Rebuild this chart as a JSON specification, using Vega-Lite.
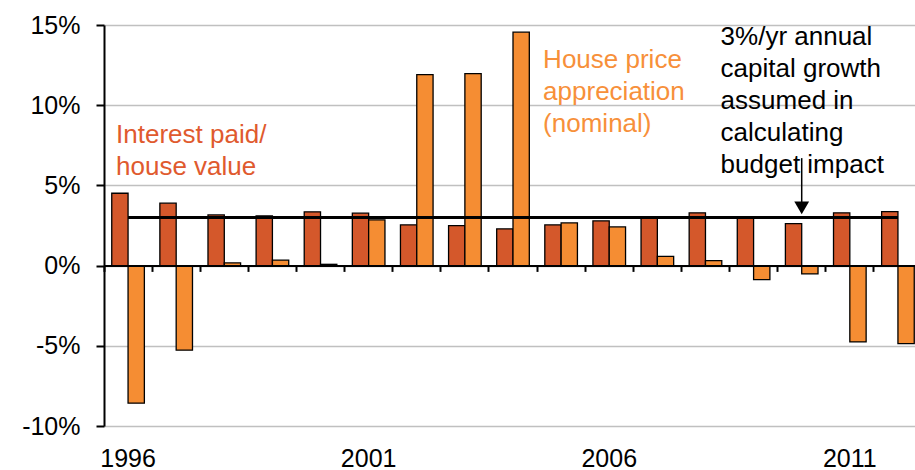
{
  "$schema": "https://vega.github.io/schema/vega-lite/v6.json",
  "autosize": "none",
  "padding": {"left": 104, "top": 25, "right": 0, "bottom": 44},
  "width": 818,
  "height": 401,
  "background": "white",
  "config": {
    "view": {"stroke": null},
    "font": "Liberation Sans",
    "axis": {"labelFont": "Liberation Sans", "labelFontSize": 25, "labelColor": "#000000", "title": null}
  },
  "datasets": {
    "main": [
      {"year": "1996", "series": "interest", "value": 4.51},
      {"year": "1996", "series": "house", "value": -8.58},
      {"year": "1997", "series": "interest", "value": 3.89},
      {"year": "1997", "series": "house", "value": -5.27},
      {"year": "1998", "series": "interest", "value": 3.16},
      {"year": "1998", "series": "house", "value": 0.17},
      {"year": "1999", "series": "interest", "value": 3.10},
      {"year": "1999", "series": "house", "value": 0.34},
      {"year": "2000", "series": "interest", "value": 3.35},
      {"year": "2000", "series": "house", "value": 0.08},
      {"year": "2001", "series": "interest", "value": 3.27},
      {"year": "2001", "series": "house", "value": 2.85},
      {"year": "2002", "series": "interest", "value": 2.54},
      {"year": "2002", "series": "house", "value": 11.91},
      {"year": "2003", "series": "interest", "value": 2.49},
      {"year": "2003", "series": "house", "value": 11.97},
      {"year": "2004", "series": "interest", "value": 2.29},
      {"year": "2004", "series": "house", "value": 14.55},
      {"year": "2005", "series": "interest", "value": 2.54},
      {"year": "2005", "series": "house", "value": 2.66},
      {"year": "2006", "series": "interest", "value": 2.79},
      {"year": "2006", "series": "house", "value": 2.41},
      {"year": "2007", "series": "interest", "value": 3.02},
      {"year": "2007", "series": "house", "value": 0.58},
      {"year": "2008", "series": "interest", "value": 3.29},
      {"year": "2008", "series": "house", "value": 0.31},
      {"year": "2009", "series": "interest", "value": 2.98},
      {"year": "2009", "series": "house", "value": -0.87},
      {"year": "2010", "series": "interest", "value": 2.62},
      {"year": "2010", "series": "house", "value": -0.52},
      {"year": "2011", "series": "interest", "value": 3.29},
      {"year": "2011", "series": "house", "value": -4.76},
      {"year": "2012", "series": "interest", "value": 3.37},
      {"year": "2012", "series": "house", "value": -4.86}
    ],
    "assumed": [
      {"year": "1996", "value": 3}, {"year": "1997", "value": 3}, {"year": "1998", "value": 3},
      {"year": "1999", "value": 3}, {"year": "2000", "value": 3}, {"year": "2001", "value": 3},
      {"year": "2002", "value": 3}, {"year": "2003", "value": 3}, {"year": "2004", "value": 3},
      {"year": "2005", "value": 3}, {"year": "2006", "value": 3}, {"year": "2007", "value": 3},
      {"year": "2008", "value": 3}, {"year": "2009", "value": 3}, {"year": "2010", "value": 3},
      {"year": "2011", "value": 3}, {"year": "2012", "value": 3}
    ]
  },
  "resolve": {"axis": {"x": "independent"}},
  "layer": [
    {
      "data": {"name": "main"},
      "mark": {"type": "bar", "stroke": "#000000", "strokeWidth": 1.3},
      "encoding": {
        "x": {
          "field": "year", "type": "nominal",
          "scale": {"paddingInner": 0, "paddingOuter": 0},
          "axis": {
            "orient": "bottom",
            "values": ["1996", "2001", "2006", "2011"],
            "domain": false, "ticks": false, "tickSize": 0,
            "labelPadding": 20, "labelAngle": 0, "grid": false
          }
        },
        "xOffset": {
          "field": "series", "type": "nominal",
          "scale": {"domain": ["interest", "house"], "paddingInner": 0, "paddingOuter": 0.475}
        },
        "y": {
          "field": "value", "type": "quantitative",
          "scale": {"domain": [-10, 15], "nice": false, "zero": false},
          "axis": {
            "values": [-10, -5, 0, 5, 10, 15],
            "labelExpr": "datum.value + '%'",
            "domainColor": "#000000", "domainWidth": 2,
            "tickColor": "#000000", "tickWidth": 2, "tickSize": 8,
            "labelPadding": 16,
            "grid": true, "gridColor": "#C0C0C0", "gridWidth": 1.5
          }
        },
        "color": {
          "field": "series", "type": "nominal",
          "scale": {"domain": ["interest", "house"], "range": ["#D4582B", "#F58D33"]},
          "legend": null
        }
      }
    },
    {
      "data": {"name": "assumed"},
      "mark": {"type": "line", "color": "#000000", "strokeWidth": 3},
      "encoding": {
        "x": {
          "field": "year", "type": "nominal",
          "axis": {
            "orient": "bottom", "offset": -160.6, "zindex": 1,
            "labels": false, "bandPosition": 0,
            "domain": true, "domainColor": "#000000", "domainWidth": 2,
            "ticks": true, "tickColor": "#000000", "tickWidth": 2, "tickSize": 6,
            "grid": false
          }
        },
        "y": {"field": "value", "type": "quantitative"}
      }
    },
    {
      "data": {"values": [{}]},
      "mark": {"type": "rule", "color": "#000000", "strokeWidth": 1.5},
      "encoding": {
        "x": {"datum": "2010", "type": "nominal", "axis": null},
        "y": {"datum": 6.7, "type": "quantitative"},
        "y2": {"datum": 3.9}
      }
    },
    {
      "data": {"values": [{}]},
      "mark": {"type": "point", "shape": "triangle-down", "filled": true, "color": "#000000", "size": 220, "opacity": 1},
      "encoding": {
        "x": {"datum": "2010", "type": "nominal", "axis": null},
        "y": {"datum": 3.6, "type": "quantitative"}
      }
    },
    {
      "data": {"values": [{}]},
      "mark": {"type": "text", "text": ["Interest paid/", "house value"], "align": "left", "baseline": "top", "dx": -12, "fontSize": 26, "lineHeight": 31.7, "color": "#E05A2E", "font": "Liberation Sans"},
      "encoding": {
        "x": {"datum": "1996", "type": "nominal", "axis": null},
        "y": {"datum": 8.93, "type": "quantitative"}
      }
    },
    {
      "data": {"values": [{}]},
      "mark": {"type": "text", "text": ["House price", "appreciation", "(nominal)"], "align": "left", "baseline": "top", "dx": -18, "fontSize": 26, "lineHeight": 31.7, "color": "#F7903A", "font": "Liberation Sans"},
      "encoding": {
        "x": {"datum": "2005", "type": "nominal", "axis": null},
        "y": {"datum": 13.6, "type": "quantitative"}
      }
    },
    {
      "data": {"values": [{}]},
      "mark": {"type": "text", "text": ["3%/yr annual", "capital growth", "assumed in", "calculating", "budget impact"], "align": "left", "baseline": "top", "dx": -33, "fontSize": 26, "lineHeight": 32, "color": "#000000", "font": "Liberation Sans"},
      "encoding": {
        "x": {"datum": "2009", "type": "nominal", "axis": null},
        "y": {"datum": 15.05, "type": "quantitative"}
      }
    }
  ]
}
